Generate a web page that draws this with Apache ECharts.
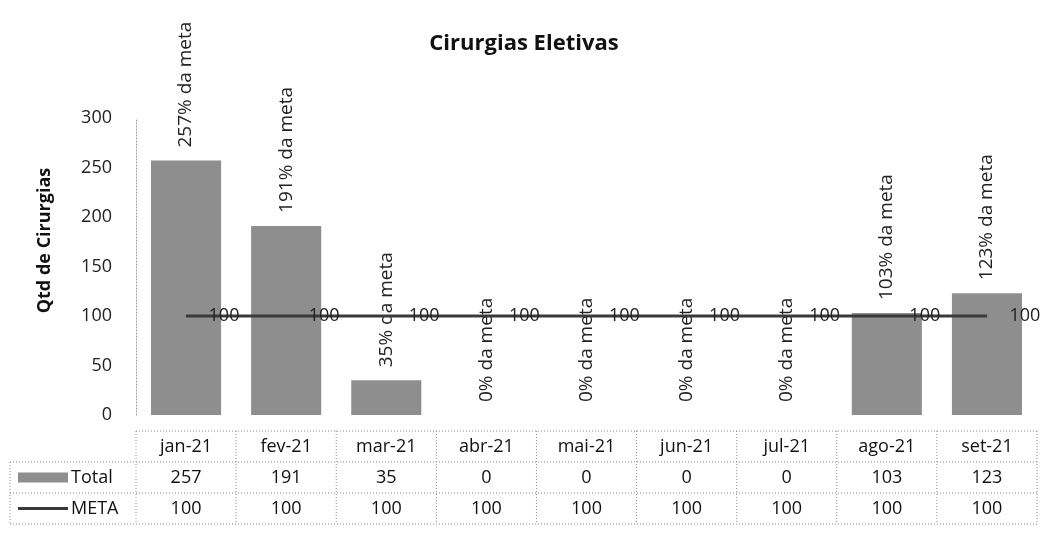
<!DOCTYPE html>
<html>
<head>
<meta charset="utf-8">
<script src="https://cdn.jsdelivr.net/npm/echarts@6/dist/echarts.min.js"></script>
<style>
   html, body { margin: 0; padding: 0; background: #fff; }
   #chart { width: 1048px; height: 534px; }
</style>
</head>
<body>
<div id="chart"></div>
<script>

// data
const months = ['jan-21', 'fev-21', 'mar-21', 'abr-21', 'mai-21', 'jun-21', 'jul-21', 'ago-21', 'set-21'];
const total = [257, 191, 35, 0, 0, 0, 0, 103, 123];
const meta = [100, 100, 100, 100, 100, 100, 100, 100, 100];
const yTicks = [0, 50, 100, 150, 200, 250, 300];

const font = '"Open Sans", "Noto Sans", sans-serif';
const barColor = '#8e8e8e';
const lineColor = '#3a3a3a';

const gridLeft = 136;
const gridRight = 11;
const gridTop = 118;
const gridBottom = 119;

const chart = echarts.init(document.getElementById('chart'));

var option =
{
   animation: false,
   textStyle: { fontFamily: font },
   title:
   {
      text: 'Cirurgias Eletivas',
      left: 'center',
      top: 28,
      textStyle: { fontSize: 22, fontWeight: 'bold', color: '#111', fontFamily: font }
   },
   grid: { left: gridLeft, right: gridRight, top: gridTop, bottom: gridBottom },
   xAxis:
   {
      type: 'category',
      data: months,
      axisLine: { show: false },
      axisTick: { show: false },
      axisLabel: { show: false }
   },
   yAxis:
   {
      type: 'value',
      min: yTicks[0],
      max: yTicks[yTicks.length - 1],
      interval: 50,
      name: 'Qtd de Cirurgias',
      nameLocation: 'middle',
      nameGap: 82,
      nameTextStyle:
      {
         fontSize: 18, fontWeight: 'bold', color: '#111', fontFamily: font,
         padding: [0, 0, 0, 52]
      },
      axisLine: { show: true, lineStyle: { color: '#999', type: [1, 2], width: 1 } },
      axisTick: { show: false },
      splitLine: { show: false },
      axisLabel: { fontSize: 18, color: '#222', margin: 24 }
   },
   series:
   [
      {
         name: 'Total',
         type: 'bar',
         data: total,
         barWidth: '70%',
         itemStyle: { color: barColor },
         label:
         {
            show: true,
            position: 'top',
            rotate: 90,
            align: 'left',
            verticalAlign: 'middle',
            distance: 13,
            fontSize: 19,
            color: '#222',
            formatter: (p) => Math.round(p.value / meta[p.dataIndex] * 100) + '% da meta'
         }
      },
      {
         name: 'META',
         type: 'line',
         data: meta,
         symbol: 'circle',
         symbolSize: 1,
         itemStyle: { color: lineColor },
         lineStyle: { color: lineColor, width: 3 },
         label:
         {
            show: true,
            position: 'right',
            distance: 22,
            fontSize: 18,
            color: '#222'
         }
      }
   ]
};

chart.setOption(option);


// data table under the plot, placed from the category axis
function buildTable()
{
   const plotLeft = gridLeft;
   const plotRight = 1048 - gridRight;
   const band = (plotRight - plotLeft) / months.length;
   const rowTop = 431;
   const rowH = 31;
   const legendLeft = 10;
   const dash = { stroke: '#8a8a8a', lineWidth: 1, lineDash: [1, 2] };
   const els = [];

   function hline(x1, x2, y)
   {
      els.push({ type: 'line', shape: { x1: x1, y1: y, x2: x2, y2: y }, style: dash, silent: true });
   }
   function vline(x, y1, y2)
   {
      els.push({ type: 'line', shape: { x1: x, y1: y1, x2: x, y2: y2 }, style: dash, silent: true });
   }
   function cellText(x, y, txt)
   {
      els.push({
         type: 'text', x: x, y: y, silent: true,
         style: { text: txt, fill: '#111', font: '18px ' + font, align: 'center', verticalAlign: 'middle' }
      });
   }

   // horizontal rules
   hline(plotLeft, plotRight, rowTop);
   hline(legendLeft, plotRight, rowTop + rowH);
   hline(legendLeft, plotRight, rowTop + 2 * rowH);
   hline(legendLeft, plotRight, rowTop + 3 * rowH);

   // vertical rules
   vline(legendLeft, rowTop + rowH, rowTop + 3 * rowH);
   for (let i = 0; i <= months.length; i++)
   {
      vline(plotLeft + i * band, rowTop, rowTop + 3 * rowH);
   }

   // cells
   for (let i = 0; i < months.length; i++)
   {
      const cx = chart.convertToPixel({ xAxisIndex: 0 }, months[i]);
      cellText(cx, rowTop + rowH / 2, months[i]);
      cellText(cx, rowTop + rowH * 1.5, String(total[i]));
      cellText(cx, rowTop + rowH * 2.5, String(meta[i]));
   }

   // legend keys
   els.push({
      type: 'rect', silent: true,
      shape: { x: 18, y: rowTop + rowH * 1.5 - 5, width: 50, height: 10 },
      style: { fill: barColor }
   });
   els.push({
      type: 'line', silent: true,
      shape: { x1: 18, y1: rowTop + rowH * 2.5, x2: 68, y2: rowTop + rowH * 2.5 },
      style: { stroke: lineColor, lineWidth: 3 }
   });
   els.push({
      type: 'text', x: 71, y: rowTop + rowH * 1.5, silent: true,
      style: { text: 'Total', fill: '#111', font: '18px ' + font, align: 'left', verticalAlign: 'middle' }
   });
   els.push({
      type: 'text', x: 71, y: rowTop + rowH * 2.5, silent: true,
      style: { text: 'META', fill: '#111', font: '18px ' + font, align: 'left', verticalAlign: 'middle' }
   });

   chart.setOption({ graphic: els });
}

buildTable();

</script>
</body>
</html>
